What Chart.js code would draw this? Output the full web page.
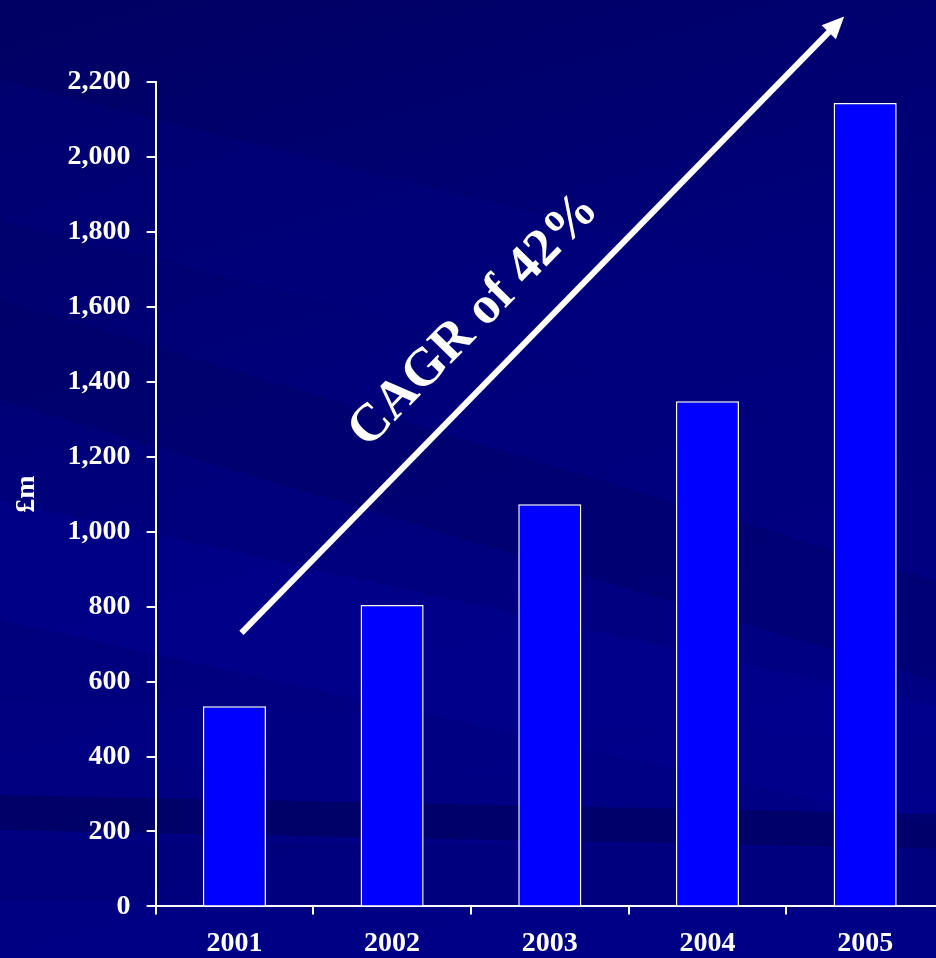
<!DOCTYPE html>
<html>
<head>
<meta charset="utf-8">
<script src="https://cdn.jsdelivr.net/npm/chart.js@4.4.0/dist/chart.umd.min.js"></script>
<style>
    html, body { margin: 0; padding: 0; overflow: hidden; background: #00007a; }
    #wrap { width: 936px; height: 958px; overflow: hidden; }
</style>
</head>
<body>
<div id="wrap"><canvas id="cagrChart" width="944" height="974"></canvas></div>
<script>
// Chart data
const years = ['2001', '2002', '2003', '2004', '2005'];
const revenue = [534, 804, 1073, 1348, 2144];
const yTicks = [0, 200, 400, 600, 800, 1000, 1200, 1400, 1600, 1800, 2000, 2200];

const serif = "'Liberation Serif', 'Times New Roman', serif";

// Background with diagonal streaks, like the slide
const slideBackground = {
    id: 'slideBackground',
    beforeDraw(chart) {
        const ctx = chart.ctx;
        const w = chart.width, h = chart.height;
        ctx.save();
        const g = ctx.createLinearGradient(0, 0, w * 0.3, h);
        g.addColorStop(0, '#000062');
        g.addColorStop(0.45, '#00007a');
        g.addColorStop(1, '#000086');
        ctx.fillStyle = g;
        ctx.fillRect(0, 0, w, h);

        // soft bands
        const bands = [
            { y0: 80, y1: 220, slope: 0.25, c: 'rgba(0,0,130,0.35)' },
            { y0: 300, y1: 400, slope: 0.3, c: 'rgba(0,0,95,0.35)' },
            { y0: 500, y1: 620, slope: 0.22, c: 'rgba(0,0,155,0.35)' },
            { y0: 700, y1: 760, slope: 0.04, c: 'rgba(0,0,135,0.35)' },
            { y0: 795, y1: 830, slope: 0.02, c: 'rgba(0,0,80,0.5)' },
            { y0: 840, y1: 900, slope: 0.01, c: 'rgba(0,0,115,0.35)' }
        ];
        bands.forEach(b => {
            ctx.fillStyle = b.c;
            ctx.beginPath();
            ctx.moveTo(0, b.y0);
            ctx.lineTo(w, b.y0 + w * b.slope);
            ctx.lineTo(w, b.y1 + w * b.slope);
            ctx.lineTo(0, b.y1);
            ctx.closePath();
            ctx.fill();
        });
        ctx.restore();
    }
};

// Growth arrow with the CAGR caption
const growthArrow = {
    id: 'growthArrow',
    afterDraw(chart) {
        const ctx = chart.ctx;
        const x = chart.scales.x, y = chart.scales.y;
        const x0 = x.getPixelForValue(0) + 7;
        const y0 = y.getPixelForValue(730);
        const x1 = x.getPixelForValue(4) - 21;
        const y1 = y.getPixelForValue(2375);
        const ang = Math.atan2(y1 - y0, x1 - x0);

        ctx.save();
        ctx.strokeStyle = '#ffffff';
        ctx.fillStyle = '#ffffff';
        ctx.lineWidth = 6;
        ctx.beginPath();
        ctx.moveTo(x0, y0);
        ctx.lineTo(x1 - 16 * Math.cos(ang), y1 - 16 * Math.sin(ang));
        ctx.stroke();

        ctx.translate(x1, y1);
        ctx.rotate(ang);
        ctx.beginPath();
        ctx.moveTo(0, 0);
        ctx.lineTo(-22, -10);
        ctx.lineTo(-22, 10);
        ctx.closePath();
        ctx.fill();
        ctx.restore();

        // caption
        ctx.save();
        ctx.translate(484, 330);
        ctx.rotate(ang);
        ctx.fillStyle = '#ffffff';
        ctx.font = 'bold 53px ' + serif;
        ctx.textAlign = 'center';
        ctx.textBaseline = 'alphabetic';
        ctx.fillText('CAGR of 42%', 0, 0);
        ctx.restore();
    }
};

const ctx = document.getElementById('cagrChart').getContext('2d');

new Chart(ctx, {
    type: 'bar',
    data: {
        labels: years,
        datasets: [{
            label: '£m',
            data: revenue,
            backgroundColor: '#0000ff',
            borderColor: '#ffffff',
            borderWidth: 1.5,
            barPercentage: 0.4,
            categoryPercentage: 1
        }]
    },
    options: {
        responsive: false,
        animation: false,
        layout: {
            padding: { top: 82, right: 0, bottom: 0, left: 2 }
        },
        plugins: {
            legend: { display: false },
            tooltip: { enabled: false }
        },
        scales: {
            y: {
                min: 0,
                max: 2200,
                afterBuildTicks: axis => {
                    axis.ticks = yTicks.map(v => ({ value: v }));
                },
                border: { display: true, color: '#ffffff', width: 2 },
                grid: {
                    drawOnChartArea: false,
                    color: '#ffffff',
                    lineWidth: 2,
                    tickLength: 9
                },
                ticks: {
                    color: '#ffffff',
                    padding: 16,
                    font: { family: serif, size: 28, weight: 'bold' },
                    callback: v => v.toLocaleString('en-US')
                },
                title: {
                    display: true,
                    text: '£m',
                    color: '#ffffff',
                    padding: { top: 8, bottom: 8 },
                    font: { family: serif, size: 28, weight: 'bold' }
                }
            },
            x: {
                border: { display: true, color: '#ffffff', width: 2 },
                grid: {
                    drawOnChartArea: false,
                    color: '#ffffff',
                    lineWidth: 2,
                    tickLength: 8,
                    offset: true
                },
                ticks: {
                    color: '#ffffff',
                    padding: 13,
                    font: { family: serif, size: 28, weight: 'bold' }
                }
            }
        }
    },
    plugins: [slideBackground, growthArrow]
});
</script>
</body>
</html>
